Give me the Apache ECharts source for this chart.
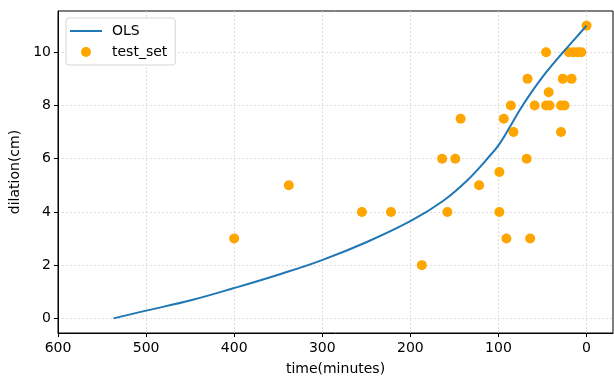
<!DOCTYPE html>
<html>
<head>
<meta charset="utf-8">
<script src="https://cdn.jsdelivr.net/npm/echarts@6/dist/echarts.min.js"></script>
<style>
  html, body { margin: 0; padding: 0; background: #fff; }
  #chart { width: 614px; height: 381px; }
</style>
</head>
<body>
<div id="chart"></div>
<script>
// OLS fit curve (ascending time)
const olsTime = [0, 12, 27, 46, 65, 76, 87, 99, 110, 135, 163, 199, 250, 301, 348, 400, 448, 500, 537];
const olsDilation = [11.0, 10.55, 9.99, 9.24, 8.38, 7.82, 7.2, 6.55, 6.1, 5.2, 4.41, 3.67, 2.86, 2.18, 1.66, 1.14, 0.69, 0.29, 0];

// test set points
const testTime = [0, 46, 20, 15, 10, 6, 67, 27, 17, 43, 59, 46, 42, 29, 25, 86, 143, 94, 83, 29,
    164, 149, 68, 99, 122, 158, 99, 91, 64, 187, 400, 338, 255, 222];
const testDilation = [11, 10, 10, 10, 10, 10, 9, 9, 9, 8.5, 8, 8, 8, 8, 8, 8, 7.5, 7.5, 7, 7,
    6, 6, 6, 5.5, 5, 4, 4, 3, 3, 2, 3, 5, 4, 4];

const xTicks = [0, 100, 200, 300, 400, 500, 600];
const yTicks = [0, 2, 4, 6, 8, 10];

const font = 'DejaVu Sans';

function pairs(xs, ys) {
    let out = [];
    for (let i = 0; i < xs.length; i++) {
        out.push([xs[i], ys[i]]);
    }
    return out;
}

const chart = echarts.init(document.getElementById('chart'), null, { renderer: 'canvas' });

chart.setOption({
    animation: false,
    textStyle: { fontFamily: font },
    grid: {
        left: 58,
        right: 1,
        top: 11,
        bottom: 44,
        show: true,
        borderColor: '#000',
        borderWidth: 1,
        backgroundColor: 'transparent'
    },
    legend: {
        orient: 'vertical',
        left: 66,
        top: 18,
        padding: [5, 8, 5, 4],
        itemWidth: 32,
        itemHeight: 10,
        itemGap: 5,
        borderColor: '#d6d6d6',
        borderWidth: 1,
        borderRadius: 3,
        backgroundColor: '#fff',
        textStyle: { fontFamily: font, fontSize: 14, color: '#000', lineHeight: 16, padding: [0, 0, 0, 5] },
        data: [
            { name: 'OLS', icon: 'path://M0,0 L32,0 L32,2 L0,2 Z' },
            { name: 'test_set', icon: 'circle' }
        ]
    },
    xAxis: {
        type: 'value',
        inverse: true,
        min: -30,
        max: 600,
        splitNumber: 6,
        name: 'time(minutes)',
        nameLocation: 'middle',
        nameGap: 29,
        nameTextStyle: { fontFamily: font, fontSize: 14, color: '#000' },
        axisLine: { show: true, onZero: false, lineStyle: { color: '#000', width: 1 } },
        axisTick: { show: true, customValues: xTicks, length: 4, lineStyle: { color: '#000' } },
        axisLabel: { customValues: xTicks, fontFamily: font, fontSize: 14, color: '#000', margin: 8 },
        splitLine: { show: true, lineStyle: { color: '#d4d4d4', width: 0.8, type: [2, 2] } }
    },
    yAxis: {
        type: 'value',
        min: -0.55,
        max: 11.55,
        splitNumber: 6,
        name: 'dilation(cm)',
        nameLocation: 'middle',
        nameGap: 33,
        nameTextStyle: { fontFamily: font, fontSize: 14, color: '#000' },
        axisLine: { show: true, onZero: false, lineStyle: { color: '#000', width: 1 } },
        axisTick: { show: true, customValues: yTicks, length: 4, lineStyle: { color: '#000' } },
        axisLabel: { customValues: yTicks, fontFamily: font, fontSize: 14, color: '#000', margin: 7 },
        splitLine: { show: true, lineStyle: { color: '#d4d4d4', width: 0.8, type: [2, 2] } }
    },
    series: [
        {
            name: 'test_set',
            type: 'scatter',
            data: pairs(testTime, testDilation),
            symbol: 'circle',
            symbolSize: 10,
            itemStyle: { color: '#ffa500', opacity: 1 },
            z: 2
        },
        {
            name: 'OLS',
            type: 'line',
            data: pairs(olsTime, olsDilation),
            showSymbol: false,
            symbol: 'none',
            smooth: 0.4,
            lineStyle: { color: '#1f77b4', width: 2 },
            itemStyle: { color: '#1f77b4' },
            z: 3
        }
    ]
});
</script>
</body>
</html>
